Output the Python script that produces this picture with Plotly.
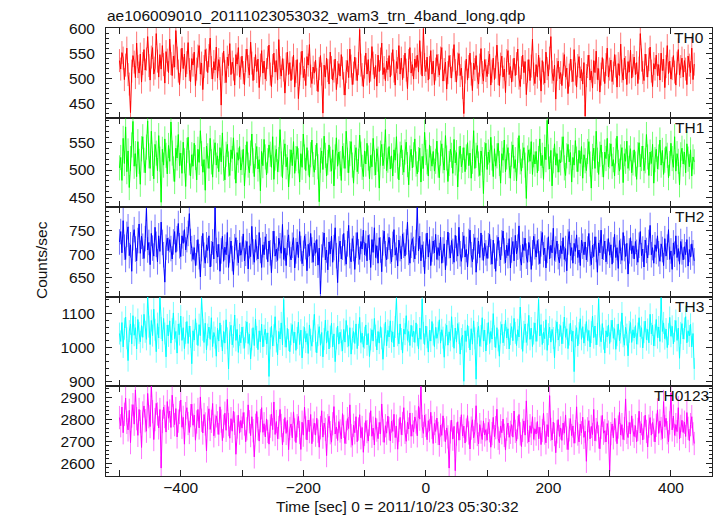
import numpy as np
import plotly.graph_objects as go
from plotly.subplots import make_subplots

# ---------------- data ----------------
TIME_START = -500          # s, first bin
TIME_STEP = 2              # s, bin width used here
TITLE = "ae106009010_20111023053032_wam3_trn_4band_long.qdp"
XLABEL = "Time [sec] 0 = 2011/10/23 05:30:32"
YLABEL = "Counts/sec"
BANDS = ["TH0", "TH1", "TH2", "TH3", "TH0123"]

th0 = [
    536, 519, 552, 541, 498, 527, 561, 508, 489, 432, 515, 546, 533, 502, 571, 524, 511, 549, 493, 530,
    558, 517, 539, 584, 526, 497, 543, 562, 509, 521, 590, 535, 503, 548, 519, 566, 528, 491, 554, 537,
    512, 579, 530, 506, 545, 523, 596, 541, 515, 488, 537, 561, 520, 549, 503, 532, 572, 518, 494, 540,
    527, 553, 486, 519, 545, 566, 509, 531, 478, 524, 558, 537, 512, 546, 581, 522, 499, 534, 517, 563,
    501, 538, 520, 447, 529, 555, 514, 492, 543, 526, 570, 508, 533, 519, 487, 548, 529, 562, 503, 521,
    545, 512, 488, 536, 559, 524, 507, 573, 531, 496, 520, 548, 514, 539, 482, 527, 556, 511, 535, 499,
    518, 542, 567, 509, 484, 526, 551, 513, 536, 497, 578, 522, 505, 540, 517, 471, 529, 553, 508, 532,
    496, 521, 547, 483, 514, 538, 460, 509, 531, 555, 502, 519, 486, 544, 527, 568, 505, 490, 523, 511,
    537, 498, 474, 520, 546, 509, 431, 527, 503, 541, 516, 489, 553, 522, 497, 515, 539, 478, 512, 530,
    505, 548, 521, 490, 467, 514, 536, 502, 559, 525, 488, 511, 543, 519, 496, 530, 598, 527, 508, 484,
    523, 551, 509, 538, 492, 517, 564, 531, 500, 526, 485, 547, 514, 539, 571, 508, 522, 496, 535, 518,
    546, 503, 529, 558, 515, 487, 534, 520, 566, 509, 541, 498, 524, 551, 517, 480, 536, 562, 511, 528,
    499, 539, 522, 547, 513, 576, 531, 505, 600, 528, 514, 543, 497, 522, 556, 509, 535, 488, 519, 548,
    526, 507, 541, 562, 495, 518, 533, 479, 512, 546, 524, 501, 537, 568, 516, 493, 529, 550, 506, 521,
    482, 430, 513, 539, 497, 524, 551, 509, 476, 531, 518, 546, 503, 489, 527, 560, 512, 495, 538, 516,
    504, 532, 549, 487, 515, 541, 498, 523, 567, 510, 486, 529, 545, 503, 519, 472, 536, 556, 508, 524,
    493, 517, 541, 506, 530, 559, 501, 484, 522, 547, 512, 534, 468, 515, 538, 496, 525, 579, 509, 490,
    528, 503, 547, 519, 475, 536, 511, 491, 553, 520, 505, 541, 584, 513, 496, 527, 459, 518, 535, 500,
    512, 486, 529, 548, 503, 521, 470, 507, 539, 516, 494, 558, 509, 483, 526, 544, 501, 518, 489, 532,
    425, 506, 524, 547, 497, 515, 481, 536, 512, 555, 498, 520, 473, 509, 542, 517, 490, 528, 561, 503,
    519, 537, 494, 511, 548, 525, 483, 530, 506, 569, 515, 497, 541, 522, 488, 534, 513, 557, 501, 526,
    543, 508, 532, 490, 521, 590, 537, 512, 496, 549, 526, 503, 538, 563, 515, 484, 530, 519, 547, 506,
    528, 497, 551, 516, 539, 482, 524, 566, 510, 535, 499, 520, 546, 513, 487, 531, 558, 507, 524, 541,
    503, 536, 519, 488, 545, 527, 512, 561, 498, 529,
]

th1 = [
    504, 523, 481, 558, 512, 579, 497, 535, 468, 521, 546, 589, 507, 530, 488, 552, 516, 474, 539, 561,
    518, 495, 542, 590, 526, 503, 571, 512, 484, 547, 531, 499, 563, 520, 441, 538, 509, 557, 527, 493,
    545, 516, 588, 531, 502, 479, 540, 522, 565, 508, 531, 494, 551, 517, 470, 536, 560, 513, 489, 528,
    507, 549, 523, 482, 538, 514, 572, 530, 496, 519, 463, 544, 526, 503, 558, 515, 487, 533, 550, 509,
    526, 497, 541, 515, 568, 503, 482, 529, 547, 511, 490, 537, 521, 559, 506, 476, 532, 518, 543, 500,
    514, 538, 471, 523, 552, 509, 495, 531, 566, 517, 488, 526, 543, 502, 519, 462, 534, 508, 556, 524,
    491, 517, 546, 529, 505, 561, 483, 522, 538, 497, 519, 574, 511, 486, 533, 548, 506, 523, 469, 515,
    537, 508, 552, 494, 521, 543, 517, 478, 530, 505, 566, 524, 499, 541, 513, 487, 528, 555, 510, 496,
    523, 549, 506, 442, 518, 535, 501, 562, 527, 489, 514, 546, 520, 498, 537, 471, 524, 559, 507, 533,
    512, 481, 544, 526, 503, 571, 518, 495, 530, 552, 509, 476, 523, 541, 497, 516, 564, 529, 505, 488,
    535, 511, 549, 522, 484, 527, 506, 558, 513, 491, 539, 520, 467, 531, 547, 508, 525, 574, 499, 518,
    543, 502, 526, 489, 537, 518, 561, 507, 482, 529, 545, 514, 496, 533, 551, 510, 473, 522, 538, 504,
    528, 557, 511, 493, 519, 540, 478, 525, 503, 569, 532, 515, 489, 546, 521, 507, 534, 498, 516, 553,
    509, 486, 531, 548, 517, 500, 563, 522, 479, 512, 538, 527, 494, 556, 513, 532, 469, 520, 544, 506,
    518, 541, 497, 524, 550, 508, 531, 485, 516, 572, 503, 527, 545, 511, 490, 535, 519, 457, 528, 549,
    501, 533, 514, 560, 522, 488, 539, 507, 526, 549, 512, 476, 530, 518, 555, 497, 524, 541, 508, 485,
    529, 546, 503, 519, 480, 536, 563, 515, 498, 527, 541, 509, 448, 522, 537, 516, 552, 492, 528, 511,
    534, 495, 521, 557, 508, 527, 483, 542, 519, 591, 524, 502, 536, 471, 517, 548, 509, 530, 496, 519,
    513, 538, 561, 504, 490, 526, 547, 515, 532, 478, 523, 509, 554, 520, 497, 536, 512, 543, 485, 528,
    517, 499, 534, 552, 511, 467, 525, 540, 503, 571, 518, 492, 529, 546, 510, 487, 533, 521, 558, 506,
    526, 548, 507, 519, 489, 535, 562, 514, 498, 524, 541, 477, 530, 516, 553, 503, 522, 539, 495, 513,
    537, 511, 483, 528, 550, 506, 521, 544, 499, 517, 565, 524, 490, 533, 512, 547, 476, 519, 538, 502,
    524, 555, 509, 536, 492, 518, 543, 527, 486, 512, 549, 521, 505, 561, 498, 530, 516, 473, 528, 540,
    511, 533, 495, 548, 520, 506, 537, 489, 524, 515,
]

th2 = [
    726, 748, 703, 771, 715, 689, 742, 758, 697, 720, 664, 735, 752, 711, 686, 729, 764, 702, 738, 717,
    691, 733, 797, 709, 725, 678, 744, 713, 696, 757, 721, 684, 739, 706, 768, 725, 699, 641, 715, 734,
    708, 731, 712, 690, 726, 748, 704, 733, 765, 718, 695, 739, 723, 752, 709, 731, 744, 786, 727, 712,
    689, 714, 676, 703, 731, 695, 652, 712, 744, 698, 681, 720, 708, 739, 673, 701, 726, 690, 799, 708,
    694, 721, 664, 707, 738, 685, 715, 699, 746, 672, 709, 728, 691, 657, 716, 735, 703, 682, 724, 698,
    711, 743, 686, 702, 727, 669, 718, 695, 759, 705, 683, 731, 714, 690, 746, 708, 672, 720, 699, 737,
    716, 684, 728, 703, 661, 722, 749, 696, 711, 687, 734, 718, 702, 763, 689, 713, 676, 725, 741, 700,
    688, 719, 735, 671, 707, 726, 693, 748, 712, 680, 702, 739, 716, 665, 721, 697, 744, 709, 683, 724,
    702, 731, 677, 713, 616, 694, 720, 745, 688, 709, 667, 726, 701, 738, 683, 714, 756, 697, 640, 711,
    728, 690, 715, 744, 703, 679, 722, 761, 697, 684, 733, 712, 668, 719, 746, 705, 689, 727, 711, 751,
    699, 723, 686, 740, 715, 672, 731, 704, 756, 693, 718, 681, 735, 709, 663, 724, 749, 701, 688, 717,
    736, 707, 684, 721, 752, 698, 714, 675, 730, 712, 690, 743, 719, 696, 726, 768, 704, 681, 719, 733,
    710, 690, 725, 799, 707, 738, 686, 720, 700, 659, 717, 745, 694, 731, 676, 711, 728, 703, 742, 689,
    714, 697, 736, 681, 709, 722, 667, 703, 747, 718, 692, 729, 706, 683, 740, 712, 696, 757, 701, 685,
    720, 739, 694, 710, 673, 727, 751, 699, 684, 716, 735, 662, 708, 728, 693, 745, 714, 687, 723, 703,
    691, 718, 742, 705, 679, 730, 696, 664, 713, 736, 702, 688, 724, 749, 707, 682, 719, 697, 733, 671,
    709, 727, 686, 740, 701, 715, 760, 692, 677, 721, 708, 734, 696, 683, 725, 711, 668, 703, 738, 716,
    694, 729, 705, 680, 722, 746, 699, 713, 671, 708, 737, 690, 719, 703, 755, 687, 711, 728, 695, 682,
    718, 701, 735, 689, 712, 665, 726, 748, 697, 714, 681, 723, 706, 741, 693, 709, 676, 730, 717, 699,
    726, 688, 711, 744, 702, 678, 719, 695, 737, 710, 662, 724, 703, 751, 690, 715, 728, 684, 706, 733,
    698, 720, 679, 709, 742, 693, 714, 670, 729, 706, 687, 746, 712, 695, 723, 658, 707, 735, 701, 718,
    690, 727, 704, 683, 719, 748, 697, 711, 673, 730, 708, 692, 725, 761, 699, 714, 681, 720, 706, 739,
    701, 685, 722, 710, 676, 733, 696, 715, 752, 689, 707, 668, 724, 700, 739, 693, 712, 679, 727, 705,
    688, 716, 699, 731, 675, 710, 694, 722, 703, 686,
]

th3 = [
    1041, 1018, 1073, 1002, 1055, 1089, 1027, 962, 1048, 1069, 1011, 1093, 1036, 1058, 996, 1082, 1043, 1017, 1064, 1030,
    1097, 1046, 1024, 1148, 1061, 1009, 1079, 1035, 1112, 1052, 988, 1070, 1028, 1146, 1057, 1019, 1085, 1041, 973, 1066,
    1034, 1078, 1013, 1054, 1101, 1026, 1047, 984, 1069, 1038, 1092, 1021, 1058, 997, 1043, 1076, 1012, 1063, 1031, 953,
    1049, 1022, 1084, 1040, 1006, 1067, 1035, 1143, 1052, 1015, 1071, 993, 1038, 1060, 1024, 1087, 1003, 1044, 1029, 975,
    1056, 1019, 1072, 1034, 990, 1047, 1013, 1081, 1027, 938, 1043, 1065, 1008, 1032, 1095, 1021, 1053, 986, 1037, 1014,
    1060, 1029, 998, 1046, 1075, 1012, 1039, 967, 1024, 1058, 1006, 1083, 1031, 994, 1049, 1017, 1068, 1002, 1035, 1054,
    1011, 1043, 916, 1027, 1062, 1005, 1036, 1090, 1018, 979, 1047, 1025, 1072, 1008, 1140, 1033, 1001, 1056, 1022, 988,
    1039, 1067, 1014, 1045, 992, 1028, 1074, 1009, 1051, 970, 1030, 1059, 1016, 1041, 983, 1066, 1023, 1004, 1048, 1097,
    1018, 985, 1036, 1061, 1007, 1044, 973, 1025, 1080, 1013, 1049, 996, 1032, 1071, 1002, 1040, 959, 1027, 1063, 1010,
    1045, 1021, 990, 1053, 1016, 1079, 1033, 1004, 1058, 981, 1026, 1047, 1012, 1069, 997, 1037, 1088, 1015, 1042, 1001,
    1029, 1066, 1008, 1041, 974, 1024, 1052, 1019, 1085, 1035, 993, 1047, 1013, 1061, 1027, 966, 1038, 1074, 1005, 1050,
    1031, 1078, 1017, 1046, 1002, 1060, 1143, 1036, 1011, 1069, 1025, 984, 1054, 1039, 1093, 1021, 1047, 1006, 1065, 1032,
    1048, 1015, 1072, 1036, 996, 1057, 1024, 1141, 1043, 1009, 1063, 1030, 987, 1051, 1019, 1076, 1038, 1003, 1059, 1027,
    1044, 1081, 1013, 1052, 1029, 972, 1038, 1065, 1007, 1046, 1021, 1090, 1034, 998, 1057, 1016, 1070, 1042, 981, 1025,
    1036, 902, 1049, 1018, 1066, 1031, 993, 1055, 1010, 1078, 1027, 908, 1043, 1062, 1004, 1034, 1087, 1019, 1051, 990,
    1040, 1073, 1012, 1047, 1025, 1099, 1033, 1000, 1058, 1021, 975, 1044, 1068, 1014, 1037, 1080, 1028, 1055, 996, 1039,
    1061, 1020, 1085, 1043, 1006, 1052, 1031, 1118, 1027, 989, 1046, 1069, 1015, 1038, 1094, 1024, 1057, 1003, 1041, 1072,
    1018, 1050, 1140, 1034, 1067, 1009, 1045, 1026, 1081, 992, 1039, 1060, 1016, 1053, 1028, 970, 1047, 1075, 1022, 1036,
    1064, 1011, 1043, 1089, 1030, 1055, 997, 1038, 1071, 1019, 1048, 930, 1033, 1058, 1005, 1042, 1084, 1024, 1061, 1013,
    1037, 1076, 1021, 1050, 1002, 1045, 1092, 1029, 1063, 1008, 1040, 1142, 1035, 1017, 1070, 1026, 984, 1049, 1031, 1066,
    1012, 1048, 1080, 1027, 1055, 995, 1036, 1069, 1020, 1044, 1101, 1033, 1007, 1059, 1038, 976, 1046, 1073, 1015, 1052,
    1028, 1064, 1010, 1041, 1087, 1032, 1058, 999, 1045, 1077, 1023, 1053, 1014, 1097, 1040, 1066, 1005, 1036, 1082, 1029,
    1060, 1018, 1145, 1047, 1072, 1026, 1054, 1000, 1039, 1088, 1033, 1062, 1011, 1048, 1079, 1021, 1057, 969, 1043, 1070,
    1025, 1056, 1090, 1014, 1049, 1034, 1068, 1002, 1041, 938,
]

th0123 = [
    2808, 2771, 2856, 2739, 2823, 2897, 2786, 2752, 2841, 2694, 2815, 2867, 2778, 2934, 2803, 2727, 2845, 2790, 2672, 2829,
    2861, 2794, 2746, 2918, 2812, 2767, 2954, 2835, 2708, 2799, 2873, 2824, 2761, 2845, 2578, 2790, 2856, 2813, 2742, 2881,
    2805, 2838, 2763, 2910, 2817, 2776, 2849, 2720, 2792, 2831, 2888, 2764, 2809, 2687, 2826, 2853, 2781, 2740, 2817, 2869,
    2773, 2819, 2705, 2788, 2845, 2761, 2902, 2796, 2738, 2822, 2779, 2656, 2807, 2848, 2754, 2791, 2872, 2725, 2769, 2816,
    2784, 2731, 2857, 2792, 2703, 2769, 2828, 2750, 2891, 2776, 2714, 2803, 2746, 2838, 2782, 2641, 2765, 2819, 2737, 2795,
    2760, 2831, 2779, 2698, 2757, 2866, 2789, 2726, 2812, 2748, 2629, 2773, 2836, 2758, 2701, 2794, 2853, 2741, 2780, 2720,
    2802, 2745, 2687, 2769, 2824, 2753, 2879, 2731, 2790, 2712, 2763, 2845, 2772, 2684, 2749, 2808, 2736, 2795, 2662, 2758,
    2779, 2716, 2834, 2752, 2694, 2771, 2813, 2740, 2663, 2787, 2728, 2856, 2761, 2706, 2797, 2744, 2822, 2689, 2751, 2783,
    2728, 2805, 2746, 2673, 2762, 2839, 2719, 2783, 2754, 2635, 2771, 2814, 2739, 2696, 2780, 2858, 2733, 2765, 2704, 2790,
    2747, 2711, 2826, 2768, 2690, 2741, 2803, 2758, 2866, 2725, 2682, 2773, 2739, 2812, 2698, 2756, 2821, 2716, 2763, 2650,
    2732, 2794, 2744, 2701, 2778, 2839, 2723, 2760, 2683, 2807, 2751, 2712, 2786, 2734, 2870, 2749, 2695, 2771, 2737, 2815,
    2758, 2702, 2792, 2745, 2823, 2717, 2769, 2664, 2750, 2809, 2730, 2781, 2853, 2741, 2700, 2787, 2756, 2829, 2723, 2776,
    2742, 2811, 2788, 2725, 2859, 2801, 2954, 2768, 2736, 2819, 2772, 2707, 2794, 2748, 2832, 2763, 2690, 2781, 2745, 2806,
    2736, 2683, 2774, 2727, 2816, 2752, 2698, 2761, 2720, 2578, 2743, 2797, 2710, 2768, 2566, 2733, 2789, 2705, 2758, 2821,
    2724, 2769, 2692, 2751, 2817, 2738, 2665, 2760, 2798, 2716, 2745, 2862, 2731, 2688, 2776, 2742, 2708, 2793, 2729, 2753,
    2705, 2786, 2748, 2673, 2735, 2809, 2721, 2762, 2846, 2714, 2693, 2770, 2739, 2801, 2727, 2660, 2755, 2783, 2718, 2741,
    2776, 2719, 2838, 2745, 2701, 2763, 2822, 2734, 2676, 2750, 2793, 2728, 2884, 2744, 2697, 2771, 2736, 2812, 2709, 2757,
    2733, 2790, 2712, 2764, 2685, 2749, 2827, 2738, 2693, 2776, 2720, 2908, 2754, 2706, 2788, 2731, 2648, 2743, 2799, 2722,
    2761, 2704, 2783, 2737, 2820, 2715, 2662, 2752, 2803, 2726, 2770, 2691, 2744, 2857, 2733, 2697, 2778, 2739, 2810, 2718,
    2746, 2609, 2757, 2794, 2711, 2768, 2731, 2845, 2702, 2753, 2789, 2720, 2666, 2764, 2818, 2737, 2748, 2697, 2781, 2742,
    2563, 2735, 2779, 2716, 2804, 2752, 2689, 2765, 2832, 2729, 2776, 2708, 2758, 2893, 2741, 2717, 2786, 2733, 2816, 2750,
    2722, 2771, 2698, 2754, 2837, 2738, 2780, 2706, 2762, 2819, 2745, 2674, 2769, 2808, 2728, 2786, 2751, 2697, 2773, 2843,
    2736, 2793, 2758, 2712, 2881, 2767, 2805, 2739, 2698, 2784, 2921, 2752, 2815, 2727, 2776, 2744, 2853, 2711, 2768, 2796,
    2740, 2787, 2722, 2831, 2759, 2703, 2776, 2812, 2734, 2690,
]

ERRORS = [23, 23, 27, 32, 53]   # typical 1-sigma error bar per band (counts/sec)

# ---------------- styling ----------------
SERIES = [th0, th1, th2, th3, th0123]
COLORS = ["#ff0000", "#00ff00", "#0000ff", "#00ffff", "#ff00ff"]
ERR_COLORS = ["rgba(255,0,0,0.55)", "rgba(0,255,0,0.55)", "rgba(0,0,255,0.55)",
              "rgba(0,255,255,0.55)", "rgba(255,0,255,0.55)"]
YRANGES = [[422, 601.2], [432, 596], [610, 799.5], [887, 1148], [2542, 2950]]
YDTICK = [50, 50, 50, 100, 100]
YMINOR = [10, 10, 10, 20, 20]
LABEL_SHIFT = [-6, -6, -6, -6, -1]

FONT = "Liberation Sans, Arial, Helvetica, sans-serif"
FS = 15.5
AX = "#222"

fig = make_subplots(rows=5, cols=1, shared_xaxes=True, vertical_spacing=0)

for i, vals in enumerate(SERIES):
    t = TIME_START + TIME_STEP * np.arange(len(vals))
    fig.add_trace(go.Scatter(
        x=t, y=vals, mode="lines",
        line=dict(color=COLORS[i], width=1),
        error_y=dict(type="constant", value=ERRORS[i], color=ERR_COLORS[i],
                     thickness=1, width=0, visible=True),
        showlegend=False, hoverinfo="skip"), row=i + 1, col=1)

    fig.update_yaxes(row=i + 1, col=1,
                     range=YRANGES[i], dtick=YDTICK[i], tick0=0, automargin=False,
                     ticks="inside", ticklen=6, tickwidth=1, tickcolor=AX,
                     minor=dict(ticks="inside", dtick=YMINOR[i], ticklen=3,
                                tickcolor=AX, tickwidth=1),
                     showline=True, linecolor=AX, linewidth=1, mirror="ticks",
                     showgrid=False, zeroline=False, ticklabelstandoff=7,
                     tickfont=dict(family=FONT, size=FS, color="#111"))
    fig.update_xaxes(row=i + 1, col=1,
                     range=[-522, 467], dtick=200, tick0=0, automargin=False,
                     ticks="inside", ticklen=6, tickwidth=1, tickcolor=AX,
                     minor=dict(ticks="inside", dtick=100, ticklen=6,
                                tickcolor=AX, tickwidth=1),
                     showline=True, linecolor=AX, linewidth=1, mirror="ticks",
                     showgrid=False, zeroline=False, ticklabelstandoff=-3,
                     tickfont=dict(family=FONT, size=FS, color="#111"))

    yref = "y domain" if i == 0 else f"y{i + 1} domain"
    fig.add_annotation(text=BANDS[i], xref="paper", x=1, xanchor="right",
                       xshift=LABEL_SHIFT[i], yref=yref, y=1, yanchor="top",
                       yshift=1, showarrow=False,
                       font=dict(family=FONT, size=FS, color="#111"))

fig.add_annotation(text=TITLE, xref="paper", x=0, xanchor="left", xshift=-1,
                   yref="paper", y=1, yanchor="bottom", yshift=2, showarrow=False,
                   font=dict(family=FONT, size=FS, color="#111"))
fig.add_annotation(text=XLABEL, xref="paper", x=0.481, xanchor="center",
                   yref="paper", y=0, yanchor="top", yshift=-20, showarrow=False,
                   font=dict(family=FONT, size=FS, color="#111"))
fig.add_annotation(text=YLABEL, xref="paper", x=0, xanchor="center", xshift=-65,
                   yref="paper", y=0.482, yanchor="middle", textangle=-90,
                   showarrow=False, font=dict(family=FONT, size=FS, color="#111"))

fig.update_layout(width=717, height=516, autosize=False,
                  margin=dict(l=106, r=5, t=28, b=40, pad=0),
                  paper_bgcolor="white", plot_bgcolor="white",
                  showlegend=False)

fig.write_html("out.html", config={"displayModeBar": False},
               post_script="document.body.style.margin='0';document.body.style.overflow='hidden';")
